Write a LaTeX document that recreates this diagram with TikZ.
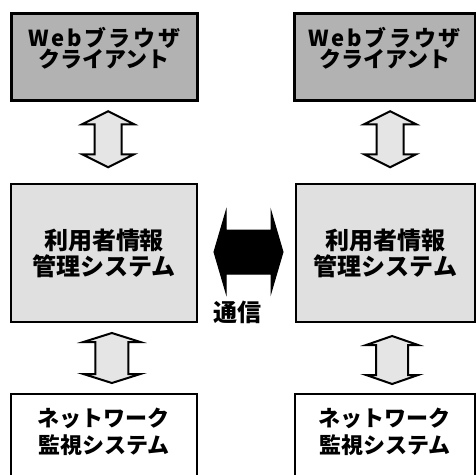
\documentclass[tikz,border=0pt]{standalone}
\usepackage{fontspec}
\setmainfont{Noto Sans CJK JP}
\usetikzlibrary{calc}
\newcommand\vdarr[6]{\filldraw[#6,shift={#1}] (0,-#2) -- (#3,-#2+#5) -- (#4,-#2+#5) -- (#4,#2-#5) -- (#3,#2-#5) -- (0,#2) -- (-#3,#2-#5) -- (-#4,#2-#5) -- (-#4,-#2+#5) -- (-#3,-#2+#5) -- cycle;}
\newcommand\hdarr[6]{\filldraw[#6,shift={#1}] (-#2,0) -- (-#2+#5,-#3) -- (-#2+#5,-#4) -- (#2-#5,-#4) -- (#2-#5,-#3) -- (#2,0) -- (#2-#5,#3) -- (#2-#5,#4) -- (-#2+#5,#4) -- (-#2+#5,#3) -- cycle;}
\newcommand\wideline[1]{{\addfontfeature{LetterSpace=12}#1}}
\newcommand\liftlines[2]{\raisebox{#1}[\height][\depth]{\begin{tabular}{@{}c@{}}#2\end{tabular}}}
\begin{document}
\begin{tikzpicture}[x=1pt,y=-1pt,
  box/.style={draw=black, anchor=north west, inner sep=0pt, align=center},
  topbox/.style={box, fill=black!30, line width=2.5pt, font=\bfseries\fontsize{22}{21}\selectfont},
  midbox/.style={box, fill=black!12, line width=2pt, font=\bfseries\fontsize{24}{26}\selectfont},
  botbox/.style={box, fill=white, line width=1.5pt, font=\bfseries\fontsize{22}{26}\selectfont},
  grayarrow/.style={fill=black!10, draw=black, line width=2pt, line join=miter},
  blackarrow/.style={fill=black, draw=black, line width=1pt, line join=miter},
  label/.style={font=\bfseries\fontsize{24}{26}\selectfont, inner sep=0pt}
]
\useasboundingbox (0,0) rectangle (475,475);
\node[topbox, minimum width=186pt, minimum height=87pt] (tl) at (10,12) {\liftlines{6pt}{\wideline{Webブラウザ}\\[-4pt]クライアント}};
\node[topbox, minimum width=181pt, minimum height=87pt] (tr) at (293,12) {\liftlines{6pt}{\wideline{Webブラウザ}\\[-4pt]クライアント}};
\node[midbox, minimum width=186pt, minimum height=138pt] (ml) at (10,183) {利用者情報\\管理システム};
\node[midbox, minimum width=179pt, minimum height=138pt] (mr) at (295,183) {利用者情報\\管理システム};
\node[botbox, minimum width=186pt, minimum height=90pt] (bl) at (10,393) {\liftlines{4pt}{ネットワーク\\監視システム}};
\node[botbox, minimum width=180pt, minimum height=90pt] (br) at (294,393) {\liftlines{4pt}{ネットワーク\\監視システム}};
\node[label] (comm) at (237,312) {通信};
\vdarr{($(tl.south)!0.5!(ml.north)+(4,-3)$)}{28}{26}{13.5}{13}{grayarrow}
\vdarr{($(tr.south)!0.5!(mr.north)+(5,-3)$)}{28}{26}{13.5}{13}{grayarrow}
\vdarr{($(ml.south)!0.5!(bl.north)+(8,0)$)}{25}{28.5}{16.5}{9}{grayarrow}
\vdarr{($(mr.south)!0.5!(br.north)+(7,2)$)}{24}{26}{16}{9}{grayarrow}
\hdarr{($(ml.east)!0.5!(mr.west)+(2,-1)$)}{34.5}{41}{22}{12}{blackarrow}
\end{tikzpicture}
\end{document}
